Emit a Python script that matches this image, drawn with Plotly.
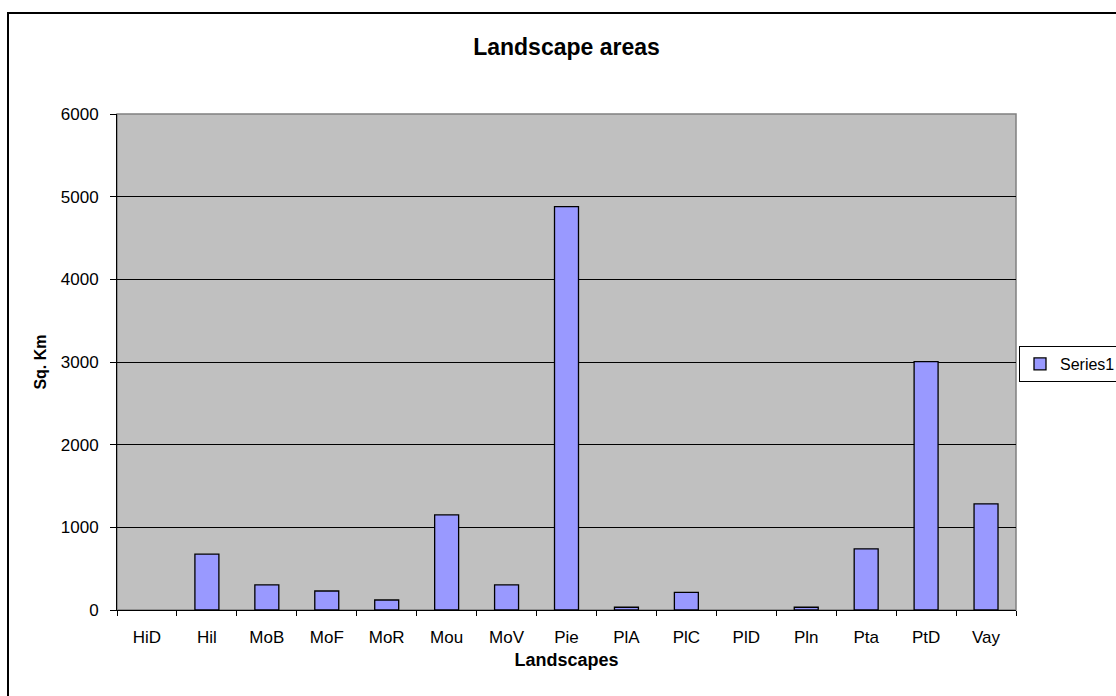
import plotly.graph_objects as go

categories = ["HiD", "Hil", "MoB", "MoF", "MoR", "Mou", "MoV", "Pie",
              "PlA", "PlC", "PlD", "Pln", "Pta", "PtD", "Vay"]
values = [None, 675, 303, 230, 121, 1150, 303, 4880, 33, 214, None, 33, 740, 3005, 1284]
series_name = "Series1"

FONT = "Liberation Sans, Arial, sans-serif"

fig = go.Figure()
fig.add_trace(go.Bar(
    x=categories, y=values, name=series_name,
    marker=dict(color="#9999FF", line=dict(color="#000000", width=1.3)),
    showlegend=True,
))

fig.update_layout(
    width=1116, height=696,
    autosize=False,
    margin=dict(l=117, r=100, t=114, b=86, autoexpand=False),
    paper_bgcolor="white",
    plot_bgcolor="#C0C0C0",
    bargap=0.6,
    font=dict(family=FONT, size=17, color="#000000"),
    title=dict(text="<b>Landscape areas</b>", x=0.5, xref="paper",
               y=1 - 47 / 696, yanchor="middle",
               font=dict(family=FONT, size=23, color="#000000")),
    showlegend=True,
    legend=dict(x=(1019 - 117) / 899, y=(610 - 346) / 496, xanchor="left", yanchor="top",
                bordercolor="#000000", borderwidth=1, bgcolor="white",
                font=dict(family=FONT, size=16),
                itemwidth=30, tracegroupgap=0),
    xaxis=dict(
        type="category", showline=True, linecolor="#000000", linewidth=1,
        ticks="outside", ticklen=5, tickcolor="#000000", tickson="boundaries",
        showgrid=False, tickfont=dict(family=FONT, size=17),
        ticklabelstandoff=12,
        title=dict(text="<b>Landscapes</b>", font=dict(family=FONT, size=18), standoff=6),
    ),
    yaxis=dict(
        range=[0, 6000], dtick=1000, showline=True, linecolor="#000000", linewidth=1,
        ticks="outside", ticklen=6, tickcolor="#000000",
        showgrid=True, gridcolor="#000000", gridwidth=1, zeroline=False,
        tickfont=dict(family=FONT, size=17),
        ticklabelstandoff=8,
        title=dict(text="<b>Sq. Km</b>", font=dict(family=FONT, size=16), standoff=10),
    ),
    shapes=[
        dict(type="rect", xref="paper", yref="paper", x0=0, x1=1, y0=0, y1=1,
             line=dict(color="#808080", width=1.5), layer="below"),
        dict(type="rect", xref="paper", yref="paper",
             x0=(8 - 117) / 899, x1=1.25, y0=-0.2, y1=(610 - 13) / 496,
             line=dict(color="#000000", width=2), layer="below"),
    ],
)

fig.write_html(
    "out.html",
    config={"displayModeBar": False},
    post_script="document.body.style.margin='0';document.body.style.overflow='hidden';",
)
